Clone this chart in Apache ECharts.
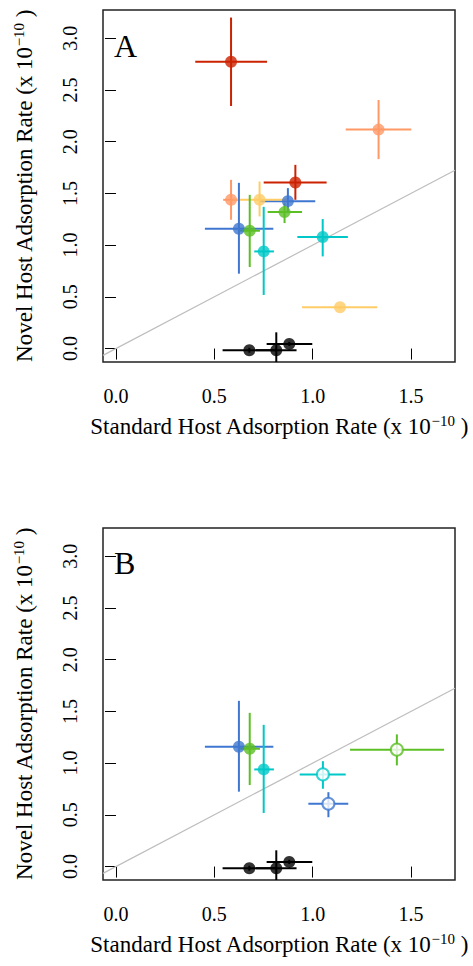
<!DOCTYPE html>
<html>
<head>
<meta charset="utf-8">
<script src="https://cdn.jsdelivr.net/npm/echarts@6/dist/echarts.min.js"></script>
<style>
html,body{margin:0;padding:0;background:#fff;}
#chart{width:473px;height:966px;}
</style>
</head>
<body>
<div id="chart"></div>
<script>
// ---------- DATA ----------
const xTicks = [0, 0.5, 1.0, 1.5];
const yTicks = [0, 0.5, 1.0, 1.5, 2.0, 2.5, 3.0];

// Panel A
const aGroup = ['red','salmon','red','blue','salmon','yellow','green','blue','green','cyan','cyan','yellow','black','black','black'];
const aStd   = [0.585, 1.335, 0.912, 0.874, 0.585, 0.730, 0.857, 0.625, 0.680, 0.751, 1.051, 1.139, 0.678, 0.815, 0.881];
const aNov   = [2.773, 2.117, 1.605, 1.425, 1.438, 1.438, 1.319, 1.158, 1.139, 0.939, 1.078, 0.399, -0.016, -0.016, 0.045];
const aStdLo = [0.403, 1.168, 0.751, 0.732, 0.545, 0.595, 0.771, 0.452, 0.630, 0.703, 0.922, 0.946, 0.542, 0.712, 0.766];
const aStdHi = [0.768, 1.501, 1.071, 1.013, 0.622, 0.868, 0.946, 0.800, 0.732, 0.803, 1.179, 1.328, 0.814, 0.918, 0.998];
const aNovLo = [2.345, 1.831, 1.438, 1.310, 1.245, 1.277, 1.213, 0.724, 0.788, 0.518, 0.891, 0.385, -0.040, -0.190, 0.025];
const aNovHi = [3.200, 2.403, 1.776, 1.551, 1.631, 1.615, 1.406, 1.602, 1.486, 1.370, 1.252, 0.413, 0.008, 0.157, 0.065];
const aOpen  = [false,false,false,false,false,false,false,false,false,false,false,false,false,false,false];

// Panel B
const bGroup = ['blue','green','cyan','green','cyan','blue','black','black','black'];
const bStd   = [0.625, 0.680, 0.751, 1.428, 1.052, 1.080, 0.678, 0.815, 0.881];
const bNov   = [1.158, 1.139, 0.939, 1.130, 0.891, 0.607, -0.016, -0.016, 0.045];
const bStdLo = [0.452, 0.630, 0.703, 1.190, 0.934, 0.978, 0.542, 0.712, 0.766];
const bStdHi = [0.800, 0.732, 0.803, 1.668, 1.168, 1.181, 0.814, 0.918, 0.998];
const bNovLo = [0.724, 0.788, 0.518, 0.978, 0.752, 0.477, -0.040, -0.190, 0.025];
const bNovHi = [1.602, 1.486, 1.370, 1.278, 1.019, 0.719, 0.008, 0.157, 0.065];
const bOpen  = [false,false,false,true,true,true,false,false,false];

// ---------- STYLE ----------
const palette = {
  red: '#CC2200', salmon: '#FF9966', yellow: '#FFCC66', blue: '#3F77D0',
  green: '#5CBF25', cyan: '#00C8C8', black: '#000000'
};
const FONT = 'Liberation Serif';
const X_MIN = -0.066, X_MAX = 1.7236;
const Y_MIN = -0.13, Y_MAX = 3.273;

function build(group, sx, sy, sxlo, sxhi, sylo, syhi, open) {
  const err = [], pts = [];
  for (let i = 0; i < sx.length; i++) {
    err.push([sx[i], sy[i], sxlo[i], sxhi[i], sylo[i], syhi[i], i]);
    const c = palette[group[i]];
    pts.push({
      value: [sx[i], sy[i]],
      itemStyle: open[i]
        ? { color: '#ffffff', borderColor: c, borderWidth: 2 }
        : { color: c, borderWidth: 0 }
    });
  }
  return { err, pts };
}

const A = build(aGroup, aStd, aNov, aStdLo, aStdHi, aNovLo, aNovHi, aOpen);
const B = build(bGroup, bStd, bNov, bStdLo, bStdHi, bNovLo, bNovHi, bOpen);

function errRender(groupArr) {
  return function (params, api) {
    const x = api.value(0), y = api.value(1);
    const xlo = api.value(2), xhi = api.value(3), ylo = api.value(4), yhi = api.value(5);
    const idx = api.value(6);
    const c = palette[groupArr[idx]];
    const pL = api.coord([xlo, y]), pR = api.coord([xhi, y]);
    const pB = api.coord([x, ylo]), pT = api.coord([x, yhi]);
    const style = { stroke: c, lineWidth: 2 };
    return {
      type: 'group',
      children: [
        { type: 'line', shape: { x1: pL[0], y1: pL[1], x2: pR[0], y2: pR[1] }, style },
        { type: 'line', shape: { x1: pB[0], y1: pB[1], x2: pT[0], y2: pT[1] }, style }
      ]
    };
  };
}

const grids = [
  { left: 103, top: 10, width: 352, height: 352 },
  { left: 103, top: 528, width: 352, height: 352 }
];

const xName = '{t|Standard Host Adsorption Rate (x 10}{s|−10}{t| )}';
const yName = '{t|Novel Host Adsorption Rate (x 10}{s|−10}{t| )}';
const nameRich = {
  t: { fontFamily: FONT, fontSize: 23, color: '#000', lineHeight: 27 },
  s: { fontFamily: FONT, fontSize: 15, color: '#000', verticalAlign: 'top', lineHeight: 16 }
};
const tickRich = { v: { fontFamily: FONT, fontSize: 20, color: '#000', lineHeight: 22 } };

function xAxisFor(i) {
  return {
    type: 'value', gridIndex: i, min: X_MIN, max: X_MAX,
    splitLine: { show: false },
    axisLine: { show: false },
    axisTick: { show: true, customValues: xTicks, length: 11, lineStyle: { color: '#000', width: 1 } },
    axisLabel: { customValues: xTicks, formatter: v => '{v|' + v.toFixed(1) + '}', rich: tickRich,
      fontFamily: FONT, fontSize: 20, color: '#000', margin: 23 },
    name: xName, nameLocation: 'middle', nameGap: 51,
    nameTextStyle: { fontFamily: FONT, rich: nameRich }
  };
}
function yAxisFor(i) {
  return {
    type: 'value', gridIndex: i, min: Y_MIN, max: Y_MAX,
    splitLine: { show: false },
    axisLine: { show: false },
    axisTick: { show: true, customValues: yTicks, length: 11, lineStyle: { color: '#000', width: 1 } },
    axisLabel: { customValues: yTicks, formatter: v => '{v|' + v.toFixed(1) + '}', rich: tickRich, rotate: 90,
      fontFamily: FONT, fontSize: 20, color: '#000', margin: 22 },
    name: yName, nameLocation: 'middle', nameGap: 65, nameRotate: 90,
    nameTextStyle: { fontFamily: FONT, rich: nameRich }
  };
}

const diag = [[X_MIN, X_MIN], [X_MAX, X_MAX]];

function seriesFor(i, D, groupArr) {
  return [
    { type: 'line', xAxisIndex: i, yAxisIndex: i, data: diag, showSymbol: false, symbol: 'none',
      lineStyle: { color: '#BEBEBE', width: 1.2 }, silent: true, z: 1, clip: true, animation: false },
    { type: 'custom', xAxisIndex: i, yAxisIndex: i, data: D.err, renderItem: errRender(groupArr),
      clip: true, silent: true, z: 2, animation: false },
    { type: 'scatter', xAxisIndex: i, yAxisIndex: i, data: D.pts, symbol: 'circle', symbolSize: 12,
      silent: true, z: 3, animation: false, clip: false }
  ];
}

const chart = echarts.init(document.getElementById('chart'), null, { renderer: 'svg' });
chart.setOption({
  animation: false,
  backgroundColor: '#ffffff',
  textStyle: { fontFamily: FONT, color: '#000' },
  title: [
    { text: 'A', left: 114, top: 30, padding: 0, textStyle: { fontFamily: FONT, fontSize: 32, fontWeight: 'normal', color: '#000' } },
    { text: 'B', left: 114, top: 547, padding: 0, textStyle: { fontFamily: FONT, fontSize: 32, fontWeight: 'normal', color: '#000' } }
  ],
  grid: grids.map(g => Object.assign({ show: true, borderColor: '#222', borderWidth: 1.5, backgroundColor: 'transparent', containLabel: false }, g)),
  xAxis: [xAxisFor(0), xAxisFor(1)],
  yAxis: [yAxisFor(0), yAxisFor(1)],
  series: [].concat(seriesFor(0, A, aGroup), seriesFor(1, B, bGroup))
});
</script>
</body>
</html>
